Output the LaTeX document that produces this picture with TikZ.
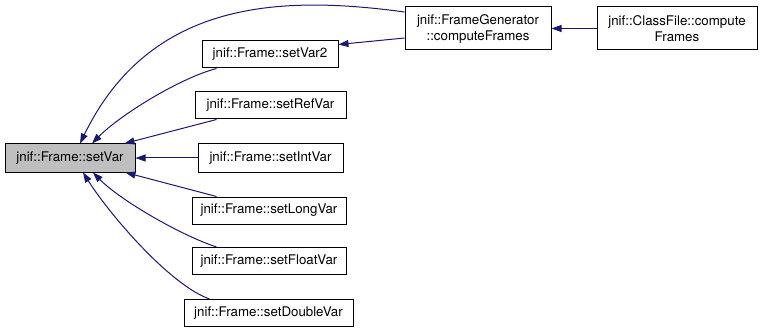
\documentclass[tikz,border=0pt]{standalone}
\usepackage{fontspec}
\setmainfont{TeX Gyre Heros}
\usetikzlibrary{arrows.meta}

\definecolor{callblue}{HTML}{191970}
\definecolor{curgray}{HTML}{BFBFBF}

\tikzset{
    fnbox/.style={draw, line width=1pt, inner sep=0pt, align=center,
        font=\fontsize{13.3}{16}\selectfont},
    call/.style={draw=callblue, line width=1pt,
        -{Triangle[length=10pt, width=7pt, fill=callblue]}},
}

\begin{document}
\begin{tikzpicture}[x=1pt, y=-1pt]

        \useasboundingbox (0,0) rectangle (763,334);

        % ==========================================
        % Function boxes
        % ==========================================

        % current function (filled)
        \node[fnbox, fill=curgray, minimum width=130, minimum height=28] (setVar) at (70,158) {jnif::Frame::setVar};

        % direct callers
        \node[fnbox, minimum width=136, minimum height=27] (setVarTwo)   at (270,54.5)  {jnif::Frame::setVar2};
        \node[fnbox, minimum width=151, minimum height=27] (setRefVar)   at (270.5,105.5) {jnif::Frame::setRefVar};
        \node[fnbox, minimum width=145, minimum height=28] (setIntVar)   at (270.5,158) {jnif::Frame::setIntVar};
        \node[fnbox, minimum width=154, minimum height=27] (setLongVar)  at (269,210.5) {jnif::Frame::setLongVar};
        \node[fnbox, minimum width=154, minimum height=27] (setFloatVar) at (269,261)   {jnif::Frame::setFloatVar};
        \node[fnbox, minimum width=169, minimum height=27] (setDoubleVar) at (268.5,313) {jnif::Frame::setDoubleVar};

        % callers further up
        \node[fnbox, minimum width=146, minimum height=43] (frameGen)  at (478,28.5) {jnif::FrameGenerator\\::computeFrames};
        \node[fnbox, minimum width=160, minimum height=43] (classFile) at (677,28.5) {jnif::ClassFile::compute\\Frames};


        % ==========================================
        % Call edges (caller -> callee)
        % ==========================================

        \draw[call] (classFile.west) -- (frameGen.east);
        \draw[call] ([yshift=-9.5]frameGen.west) -- ([yshift=10]setVarTwo.east);

        % long arc over the top
        \draw[call] ([yshift=16.5]frameGen.west) .. controls (280,-5) and (150,0) .. ([xshift=10]setVar.north);

        \draw[call] ([xshift=15]setVarTwo.south west) .. controls (180,78) and (120,115) .. ([xshift=22]setVar.north);
        \draw[call] ([xshift=22]setRefVar.south west) -- ([xshift=-11]setVar.north east);
        \draw[call] (setIntVar.west) -- (setVar.east);
        \draw[call] ([xshift=25]setLongVar.north west) -- ([xshift=-10]setVar.south east);
        \draw[call] ([xshift=25]setFloatVar.north west) .. controls (180,235) and (120,200) .. ([xshift=23]setVar.south);
        \draw[call] ([xshift=26]setDoubleVar.north west) .. controls (170,285) and (110,215) .. ([xshift=13]setVar.south);

\end{tikzpicture}
\end{document}
